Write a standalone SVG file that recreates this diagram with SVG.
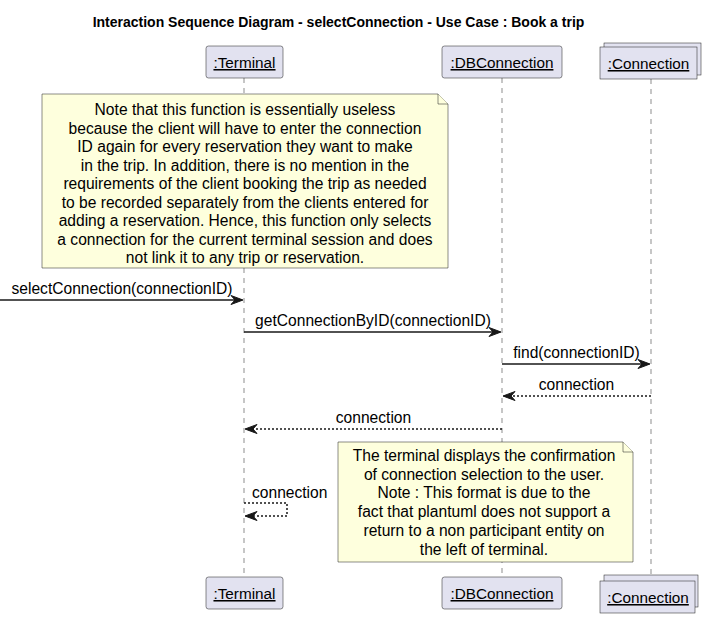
<svg xmlns="http://www.w3.org/2000/svg" width="706" height="617" viewBox="0 0 706 617">
<style>
text{font-family:"Liberation Sans",Arial,sans-serif;font-size:15.6px;fill:#000}
.title{font-weight:bold;font-size:14px}
.part{fill:#E2E2F0;stroke:#181818;stroke-width:0.5}
.pt{text-decoration:underline;text-anchor:middle;font-size:15.3px}
.life{stroke:#181818;stroke-width:0.5;stroke-dasharray:5,5;fill:none}
.note{fill:#FEFFDD;stroke:#181818;stroke-width:0.5}
.nt{text-anchor:middle}
.msg{stroke:#181818;stroke-width:1.5;fill:none}
.ret{stroke:#181818;stroke-width:1.5;fill:none;stroke-dasharray:2,2}
.ah{fill:#181818;stroke:#181818;stroke-width:1}
.mt{text-anchor:middle}
</style>
<rect width="706" height="617" fill="#FFFFFF"/>
<text class="title" x="338.5" y="27" text-anchor="middle">Interaction Sequence Diagram - selectConnection - Use Case : Book a trip</text>
<g id="lifelines">
<line class="life" x1="244" y1="78" x2="244" y2="577"/>
<line class="life" x1="502" y1="78" x2="502" y2="577"/>
<line class="life" x1="651" y1="79" x2="651" y2="577"/>
</g>
<g id="terminal">
<rect class="part" x="206" y="46" width="77" height="32" rx="2.5"/>
<text class="pt" x="244.5" y="68">:Terminal</text>
<rect class="part" x="206" y="577" width="77" height="32" rx="2.5"/>
<text class="pt" x="244.5" y="599">:Terminal</text>
</g>
<g id="dbconnection">
<rect class="part" x="442" y="46" width="120" height="32" rx="2.5"/>
<text class="pt" x="502" y="68">:DBConnection</text>
<rect class="part" x="442" y="577" width="120" height="32" rx="2.5"/>
<text class="pt" x="502" y="599">:DBConnection</text>
</g>
<g id="connection">
<rect class="part" x="604" y="43" width="97" height="32"/>
<rect class="part" x="600" y="47" width="97" height="32"/>
<text class="pt" x="648.5" y="69">:Connection</text>
<rect class="part" x="604" y="575" width="94" height="32"/>
<rect class="part" x="600" y="581" width="95" height="32"/>
<text class="pt" x="648" y="603">:Connection</text>
</g>
<g id="note1">
<path class="note" d="M42,94 L438,94 L448,104 L448,268 L42,268 Z"/>
<path class="note" d="M438,94 L438,104 L448,104" fill="none"/>
<text class="nt" x="245" y="115">Note that this function is essentially useless</text>
<text class="nt" x="245" y="133.5">because the client will have to enter the connection</text>
<text class="nt" x="245" y="152">ID again for every reservation they want to make</text>
<text class="nt" x="245" y="170.5">in the trip. In addition, there is no mention in the</text>
<text class="nt" x="245" y="189">requirements of the client booking the trip as needed</text>
<text class="nt" x="245" y="207.5">to be recorded separately from the clients entered for</text>
<text class="nt" x="245" y="226">adding a reservation. Hence, this function only selects</text>
<text class="nt" x="245" y="244.5">a connection for the current terminal session and does</text>
<text class="nt" x="245" y="263">not link it to any trip or reservation.</text>
</g>
<g id="note2">
<path class="note" d="M338,442 L623,442 L633,452 L633,562 L338,562 Z"/>
<path class="note" d="M623,442 L623,452 L633,452" fill="none"/>
<text class="nt" x="484" y="461">The terminal displays the confirmation</text>
<text class="nt" x="484" y="479.7">of connection selection to the user.</text>
<text class="nt" x="484" y="498.4">Note : This format is due to the</text>
<text class="nt" x="484" y="517.1">fact that plantuml does not support a</text>
<text class="nt" x="484" y="535.8">return to a non participant entity on</text>
<text class="nt" x="484" y="554.5">the left of terminal.</text>
</g>
<g id="connectors">
<line class="msg" x1="0" y1="300" x2="242" y2="300"/>
<polygon class="ah" points="243,300 231,295.5 235,300 231,304.5"/>
<text class="mt" x="122" y="294">selectConnection(connectionID)</text>
<line class="msg" x1="244" y1="332" x2="500" y2="332"/>
<polygon class="ah" points="501,332 489,327.5 493,332 489,336.5"/>
<text class="mt" x="373" y="326">getConnectionByID(connectionID)</text>
<line class="msg" x1="502" y1="364" x2="649" y2="364"/>
<polygon class="ah" points="650,364 638,359.5 642,364 638,368.5"/>
<text class="mt" x="576.5" y="358">find(connectionID)</text>
<line class="ret" x1="651" y1="396" x2="505" y2="396"/>
<polygon class="ah" points="503,396 515,391.5 511,396 515,400.5"/>
<text class="mt" x="576.5" y="390">connection</text>
<line class="ret" x1="502" y1="429" x2="247" y2="429"/>
<polygon class="ah" points="245,429 257,424.5 253,429 257,433.5"/>
<text class="mt" x="373.5" y="423">connection</text>
<polyline class="ret" points="244,503 287,503 287,516 248,516"/>
<polygon class="ah" points="245,516 257,511.5 253,516 257,520.5"/>
<text x="252" y="498">connection</text>
</g>
</svg>
